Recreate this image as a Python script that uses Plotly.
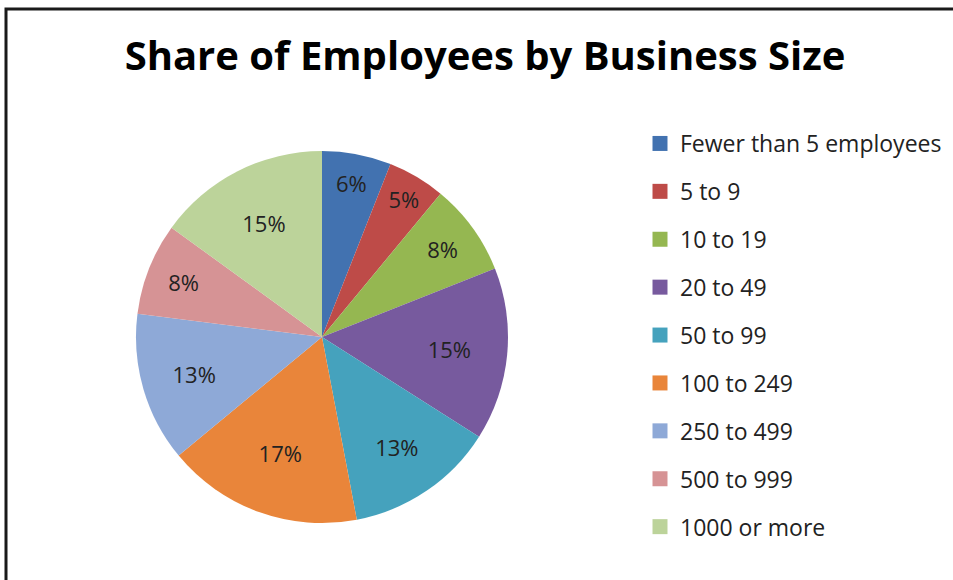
import plotly.graph_objects as go

# Share of employees by business size (percent)
categories = ["Fewer than 5 employees", "5 to 9", "10 to 19", "20 to 49", "50 to 99",
              "100 to 249", "250 to 499", "500 to 999", "1000 or more"]
shares = [6, 5, 8, 15, 13, 17, 13, 8, 15]
colors = ["#4272B0", "#BE4B48", "#95B751", "#775A9E", "#45A2BD",
          "#E9853A", "#8EA9D7", "#D69395", "#BCD39A"]

W, H = 953, 580
FONT = "Open Sans"

fig = go.Figure()

fig.add_trace(go.Pie(
    labels=categories,
    values=shares,
    sort=False,
    direction="clockwise",
    rotation=0,
    marker=dict(colors=colors, line=dict(width=0)),
    texttemplate="%{percent:.0%}",
    textposition="inside",
    insidetextorientation="horizontal",
    textfont=dict(family=FONT, size=22, color="#222222"),
    hoverinfo="label+percent",
    showlegend=False,
    domain=dict(x=[136 / W, 508 / W], y=[1 - 523 / H, 1 - 151 / H]),
))

# Legend entries: one square marker per category, each in its own group for spacing
for name, col in zip(categories, colors):
    fig.add_trace(go.Scatter(
        x=[None], y=[None], mode="markers", name=name,
        marker=dict(symbol="square", size=15, color=col),
        legendgroup=name, showlegend=True, hoverinfo="skip",
    ))

fig.update_layout(
    width=W, height=H,
    margin=dict(l=0, r=0, t=0, b=0),
    paper_bgcolor="white",
    plot_bgcolor="white",
    xaxis=dict(visible=False),
    yaxis=dict(visible=False),
    title=dict(
        text="<b>Share of Employees by Business Size</b>",
        font=dict(family=FONT, size=40, color="#000000"),
        x=485 / W, xanchor="center", xref="paper",
        y=1 - 56 / H, yanchor="middle", yref="container",
    ),
    legend=dict(
        x=640 / W, y=1 - 122 / H, xanchor="left", yanchor="top",
        font=dict(family=FONT, size=23, color="#222222"),
        tracegroupgap=15,
        bgcolor="rgba(0,0,0,0)",
    ),
    shapes=[dict(
        type="rect", xref="paper", yref="paper",
        x0=6 / W, y0=-0.05, x1=1.05, y1=1 - 9 / H,
        line=dict(color="#1a1a1a", width=3),
    )],
)

fig.write_html("out.html")
